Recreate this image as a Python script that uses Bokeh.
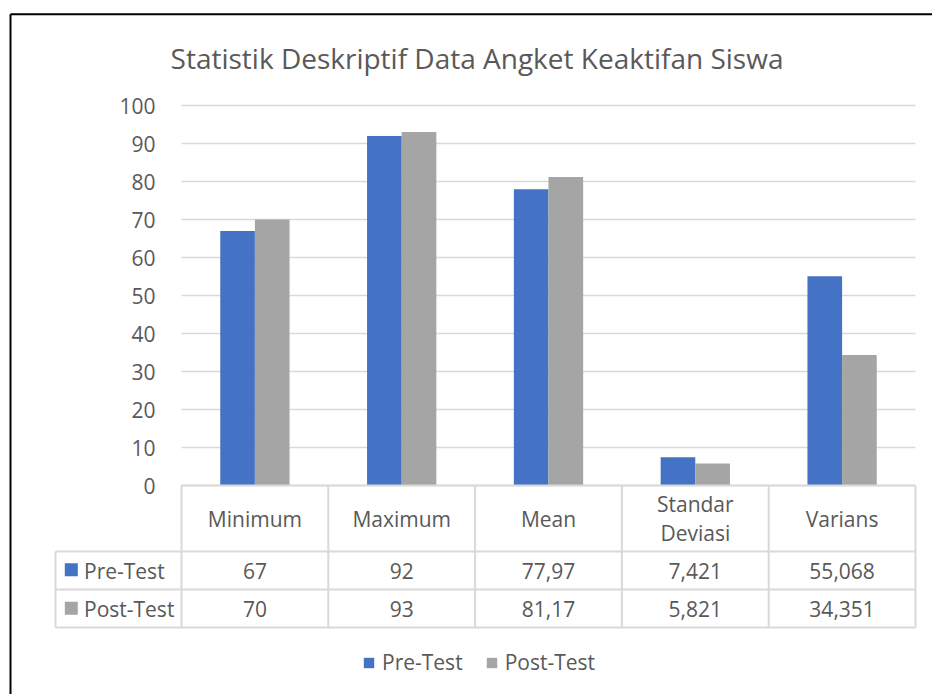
import numpy as np
from bokeh.plotting import figure
from bokeh.models import ColumnDataSource, FixedTicker, Legend, LegendItem, Range1d
from bokeh.core.properties import value
from bokeh.transform import dodge
from bokeh.embed import file_html
from bokeh.resources import INLINE

# ---------------- data ----------------
title_text = "Statistik Deskriptif Data Angket Keaktifan Siswa"
categories = ["Minimum", "Maximum", "Mean", "Standar\nDeviasi", "Varians"]
pre_test = [67, 92, 77.97, 7.421, 55.068]
post_test = [70, 93, 81.17, 5.821, 34.351]
pre_labels = ["67", "92", "77,97", "7,421", "55,068"]
post_labels = ["70", "93", "81,17", "5,821", "34,351"]
series_names = ["Pre-Test", "Post-Test"]
y_ticks = [0, 10, 20, 30, 40, 50, 60, 70, 80, 90, 100]

# ---------------- style / layout ----------------
BLUE = "#4472C4"
GRAY = "#A5A5A5"
TEXT = "#595959"
LINE = "#D9D9D9"
FONT = "Open Sans"
FS = "21px"

W, H = 932, 694
X0, CAT_PX = 181, 146.8               # pixel of x=0 and px per category
Y0, UNIT_PX = 485, 3.8                # pixel of y=0 and px per unit


def xd(px):
    return (px - X0) / CAT_PX


def yd(py):
    return (Y0 - py) / UNIT_PX


n = len(categories)
hdr_bottom = yd(551)
row1_bottom = yd(589)
row2_bottom = yd(627)
left_col = xd(55)

p = figure(width=W, height=H, output_backend="svg", toolbar_location=None,
           x_range=Range1d(xd(0), xd(W)), y_range=Range1d(yd(H), yd(0)),
           x_axis_location=None, min_border_left=0, min_border_right=0,
           min_border_top=0, min_border_bottom=0)
p.outline_line_color = None
p.xgrid.visible = False
p.ygrid.visible = False

# chart-area border (top and left edges visible)
bx, by = xd(10), yd(13.8)
p.segment(x0=[bx, bx], y0=[by, by], x1=[bx, xd(W)], y1=[yd(H), by],
          line_color="black", line_width=2)

# title
p.text(x=[xd(476.5)], y=[yd(57)], text=[title_text], text_font=value(FONT),
       text_font_size="28px", text_color=TEXT, text_align="center",
       text_baseline="middle")

# y axis placed at x = 0 inside the frame
yax = p.yaxis[0]
yax.fixed_location = 0
yax.ticker = FixedTicker(ticks=y_ticks)
yax.axis_line_color = None
yax.major_tick_line_color = None
yax.minor_tick_line_color = None
yax.major_label_standoff = 20
yax.major_label_text_font = FONT
yax.major_label_text_font_size = FS
yax.major_label_text_color = TEXT

# gridlines (from x=0 to the last category)
p.segment(x0=[0] * len(y_ticks), x1=[n] * len(y_ticks), y0=y_ticks, y1=y_ticks,
          line_color=LINE, line_width=1.5)

# bars
centers = list(np.arange(n) + 0.5)
src = ColumnDataSource(dict(x=centers, pre=pre_test, post=post_test,
                            cat=categories, pre_lab=pre_labels, post_lab=post_labels))
bw = 0.236
r_pre = p.vbar(x=dodge("x", -bw / 2), top="pre", width=bw, source=src,
               fill_color=BLUE, line_color=None)
r_post = p.vbar(x=dodge("x", bw / 2), top="post", width=bw, source=src,
                fill_color=GRAY, line_color=None)

# data table lines
hx0 = [0, left_col, left_col, left_col]
hx1 = [n] * 4
hy = [0, hdr_bottom, row1_bottom, row2_bottom]
p.segment(x0=hx0, x1=hx1, y0=hy, y1=hy, line_color=LINE, line_width=2)
vx = list(range(n + 1)) + [left_col]
vy0 = [0] * (n + 1) + [hdr_bottom]
vy1 = [row2_bottom] * (n + 2)
p.segment(x0=vx, x1=vx, y0=vy0, y1=vy1, line_color=LINE, line_width=2)

# table texts
txt = dict(text_font=value(FONT), text_font_size=FS, text_color=TEXT,
           text_align="center", text_baseline="middle")
p.text(x="x", y=hdr_bottom / 2, text="cat", source=src, text_line_height=1.05, **txt)
p.text(x="x", y=(hdr_bottom + row1_bottom) / 2, text="pre_lab", source=src, **txt)
p.text(x="x", y=(row1_bottom + row2_bottom) / 2, text="post_lab", source=src, **txt)

# row headers with series keys
row_y = [(hdr_bottom + row1_bottom) / 2, (row1_bottom + row2_bottom) / 2]
p.scatter(x=[xd(70.8)] * 2, y=[yd(569.3), yd(607.7)], marker="square", size=13,
          fill_color=[BLUE, GRAY], line_color=None)
p.text(x=[xd(83.5)] * 2, y=row_y, text=series_names, text_font=value(FONT),
       text_font_size=FS, text_color=TEXT, text_align="left",
       text_baseline="middle")

# legend
legend = Legend(items=[LegendItem(label=series_names[0], renderers=[r_pre]),
                       LegendItem(label=series_names[1], renderers=[r_post])],
                orientation="horizontal", location=(362, 18),
                glyph_width=13, glyph_height=13, label_standoff=7, spacing=22,
                padding=4, margin=0, border_line_color=None,
                background_fill_alpha=0, label_text_font=FONT,
                label_text_font_size=FS, label_text_color=TEXT)
p.add_layout(legend)

open("out.html", "w").write(file_html(p, INLINE))
